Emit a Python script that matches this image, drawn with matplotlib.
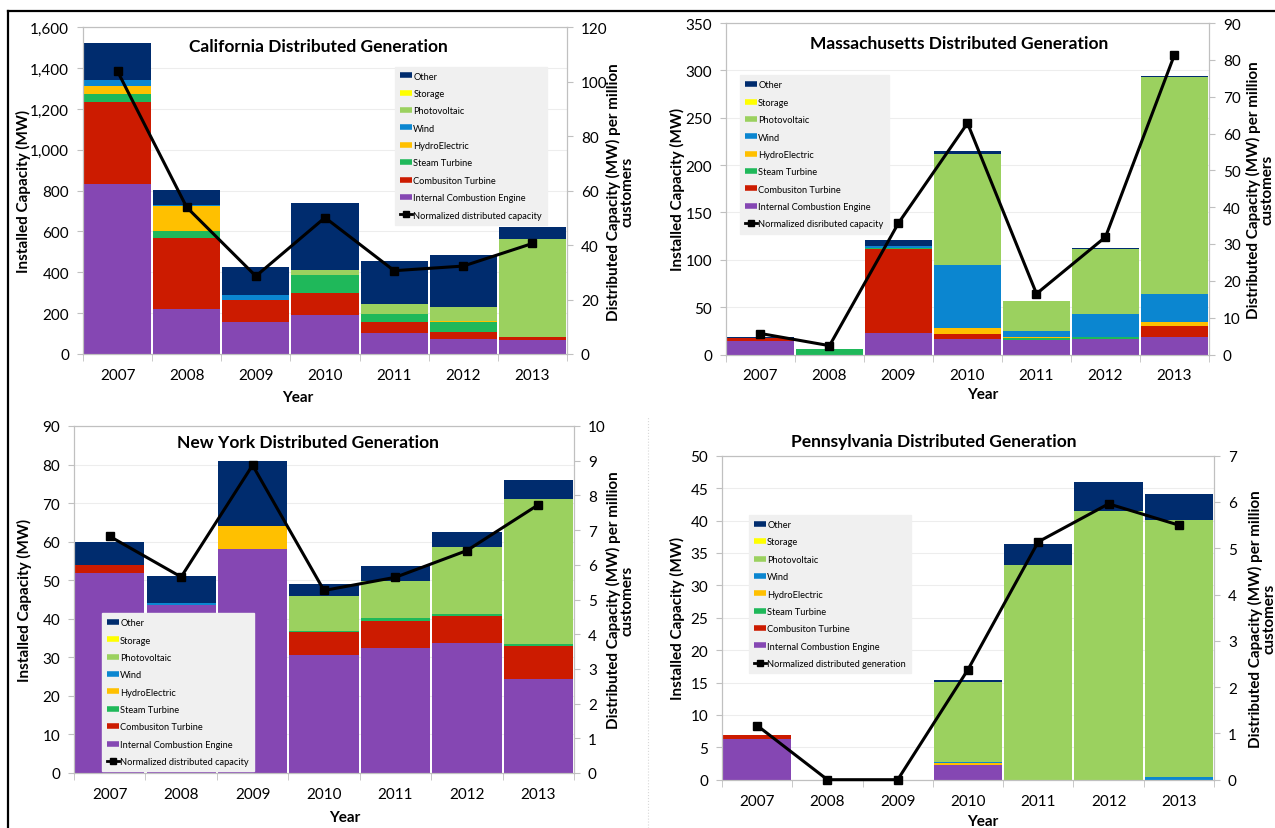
import matplotlib
matplotlib.use('Agg')
import matplotlib.pyplot as plt
from matplotlib.lines import Line2D
from matplotlib.ticker import FuncFormatter

plt.rcParams['font.family'] = ['Lato', 'DejaVu Sans']

years = ['2007', '2008', '2009', '2010', '2011', '2012', '2013']

series_names = ['Internal Combustion Engine', 'Combusiton Turbine', 'Steam Turbine',
                'HydroElectric', 'Wind', 'Photovoltaic', 'Storage', 'Other']
series_colors = ['#8547b3', '#cc1b00', '#1fb85a', '#ffc000', '#0b86d0',
                 '#9bd15f', '#ffff00', '#002c6e']

# California (MW)
ca_ice = [831, 221, 156, 192, 101, 72, 67]
ca_ct = [402, 348, 109, 109, 54, 35, 16]
ca_steam = [39, 34, 0, 86, 42, 52, 0]
ca_hydro = [42, 122, 0, 0, 0, 5, 0]
ca_wind = [27, 3, 24, 0, 0, 0, 0]
ca_pv = [0, 0, 0, 24, 47, 65, 479]
ca_storage = [0, 0, 0, 0, 0, 0, 0]
ca_other = [184, 73, 137, 329, 213, 255, 61]
ca_norm = [103.8, 53.9, 28.6, 50.1, 30.6, 32.3, 40.6]

# Massachusetts (MW)
ma_ice = [14, 0, 23, 16.5, 15, 16, 18]
ma_ct = [3, 0, 88, 5.5, 0, 0, 12]
ma_steam = [0, 5.5, 1.5, 0, 2, 2, 0]
ma_hydro = [0, 0, 0, 6, 1.5, 1, 4.6]
ma_wind = [0, 0, 2.5, 66.7, 6, 24, 29.3]
ma_pv = [0, 0, 0, 117.3, 31.5, 68, 228.7]
ma_storage = [0, 0, 0, 0, 0, 0, 0]
ma_other = [1, 0, 6, 3, 0.5, 1, 1.7]
ma_norm = [5.7, 2.4, 35.7, 62.8, 16.5, 31.9, 81.4]

# New York (MW)
ny_ice = [52, 43.5, 58, 30.7, 32.4, 33.7, 24.5]
ny_ct = [2, 0, 0, 5.8, 7.1, 7.1, 8.5]
ny_steam = [0, 0, 0, 0.4, 0.6, 0.5, 0.4]
ny_hydro = [0, 0, 6, 0, 0, 0, 0]
ny_wind = [0, 0.5, 0, 0, 0, 0, 0]
ny_pv = [0, 0, 0, 8.9, 9.8, 17.4, 37.6]
ny_storage = [0, 0, 0, 0, 0, 0, 0]
ny_other = [6, 7, 17, 3.1, 3.9, 3.7, 5.1]
ny_norm = [6.82, 5.65, 8.87, 5.26, 5.64, 6.41, 7.73]

# Pennsylvania (MW)
pa_ice = [6.3, 0, 0, 2.3, 0, 0, 0]
pa_ct = [0.65, 0, 0, 0, 0, 0, 0]
pa_steam = [0, 0, 0, 0, 0, 0, 0]
pa_hydro = [0, 0, 0, 0.35, 0, 0, 0]
pa_wind = [0, 0, 0, 0.15, 0, 0, 0.4]
pa_pv = [0, 0, 0, 12.35, 33.2, 41.4, 39.7]
pa_storage = [0, 0, 0, 0, 0, 0, 0]
pa_other = [0, 0, 0, 0.3, 3.2, 4.5, 4.0]
pa_norm = [1.17, 0, 0, 2.38, 5.14, 5.96, 5.5]

panels = [
    dict(title='California Distributed Generation',
         stacks=[ca_ice, ca_ct, ca_steam, ca_hydro, ca_wind, ca_pv, ca_storage, ca_other],
         norm=ca_norm, norm_label='Normalized distributed capacity',
         rect=[83, 28.3, 567, 355], ymax=1600, ystep=200, y2max=120, y2step=20,
         title_xy=(0.486, 0.943), leg_xy=(0.645, 0.880),
         ylab_x=-0.107, y2lab_x=1.081, xlab_xy=(0.444, -0.110), comma=True),
    dict(title='Massachusetts Distributed Generation',
         stacks=[ma_ice, ma_ct, ma_steam, ma_hydro, ma_wind, ma_pv, ma_storage, ma_other],
         norm=ma_norm, norm_label='Normalized disributed capacity',
         rect=[726, 24, 1209, 355.5], ymax=350, ystep=50, y2max=90, y2step=10,
         title_xy=(0.482, 0.939), leg_xy=(0.029, 0.842),
         ylab_x=-0.085, y2lab_x=1.077, xlab_xy=(0.532, -0.098), comma=False),
    dict(title='New York Distributed Generation',
         stacks=[ny_ice, ny_ct, ny_steam, ny_hydro, ny_wind, ny_pv, ny_storage, ny_other],
         norm=ny_norm, norm_label='Normalized distributed capacity',
         rect=[74, 427, 574, 774], ymax=90, ystep=10, y2max=10, y2step=1,
         title_xy=(0.468, 0.954), leg_xy=(0.056, 0.461),
         ylab_x=-0.083, y2lab_x=1.064, xlab_xy=(0.542, -0.107), comma=False),
    dict(title='Pennsylvania Distributed Generation',
         stacks=[pa_ice, pa_ct, pa_steam, pa_hydro, pa_wind, pa_pv, pa_storage, pa_other],
         norm=pa_norm, norm_label='Normalized distributed generation',
         rect=[722, 456.7, 1214, 780.7], ymax=50, ystep=5, y2max=7, y2step=1,
         title_xy=(0.43, 1.046), leg_xy=(0.055, 0.817),
         ylab_x=-0.075, y2lab_x=1.069, xlab_xy=(0.53, -0.106), comma=False),
]

W, H = 1275, 829
fig = plt.figure(figsize=(W / 100, H / 100), dpi=100)
spine_color = '#c0c0c0'

for p in panels:
    x0, y0, x1, y1 = p['rect']
    ax = fig.add_axes([x0 / W, 1 - y1 / H, (x1 - x0) / W, (y1 - y0) / H])
    xs = list(range(len(years)))
    bottom = [0.0] * len(years)
    for vals, name, col in zip(p['stacks'], series_names, series_colors):
        ax.bar(xs, vals, 0.97, bottom=bottom, color=col, linewidth=0, zorder=2)
        bottom = [b + v for b, v in zip(bottom, vals)]

    ax.set_xlim(-0.5, 6.5)
    ax.set_ylim(0, p['ymax'])
    ax.set_yticks(list(range(0, p['ymax'] + 1, p['ystep'])))
    if p['comma']:
        ax.yaxis.set_major_formatter(FuncFormatter(lambda v, pos: '{:,.0f}'.format(v)))
    ax.set_xticks(xs)
    ax.set_xticklabels(years)
    ax.set_xticks([i - 0.5 for i in range(len(years) + 1)], minor=True)
    ax.tick_params(axis='x', which='major', length=0, pad=10, labelsize=11)
    ax.tick_params(axis='x', which='minor', length=5, color=spine_color)
    ax.tick_params(axis='y', length=4, color=spine_color, labelsize=11, pad=6)
    ax.grid(axis='y', color='#ededed', linewidth=0.8, zorder=0)
    ax.set_axisbelow(True)
    for s in ax.spines.values():
        s.set_color(spine_color)

    ax.set_ylabel('Installed Capacity (MW)', fontsize=11, fontweight='bold')
    ax.yaxis.set_label_coords(p['ylab_x'], 0.5)
    ax.set_xlabel('Year', fontsize=11, fontweight='bold')
    ax.xaxis.set_label_coords(*p['xlab_xy'])

    ax2 = ax.twinx()
    ax2.plot(xs, p['norm'], color='black', linewidth=2.2, marker='s',
             markersize=6, zorder=5, clip_on=False)
    ax2.set_ylim(0, p['y2max'])
    ax2.set_yticks(list(range(0, p['y2max'] + 1, p['y2step'])))
    ax2.tick_params(axis='y', length=4, color=spine_color, labelsize=11, pad=6)
    for s in ax2.spines.values():
        s.set_color(spine_color)
    ax2.set_ylabel('Distributed Capacity (MW) per million\ncustomers', fontsize=11,
                   fontweight='bold', linespacing=0.95)
    ax2.yaxis.set_label_coords(p['y2lab_x'], 0.5)

    ax2.text(p['title_xy'][0], p['title_xy'][1], p['title'], transform=ax.transAxes,
             ha='center', va='center', fontsize=12.5, fontweight='bold', zorder=10)

    handles = [Line2D([0], [0], color=c, lw=4, solid_capstyle='butt')
               for c in reversed(series_colors)]
    labels = list(reversed(series_names))
    handles.append(Line2D([0], [0], color='black', lw=2, marker='s', markersize=4))
    labels.append(p['norm_label'])
    leg = ax2.legend(handles, labels, loc='upper left', bbox_to_anchor=p['leg_xy'],
                     bbox_transform=ax.transAxes, borderaxespad=0, fontsize=6.7,
                     handlelength=1.3, handletextpad=0.1, labelspacing=0.9,
                     borderpad=0.55, frameon=True, fancybox=False, framealpha=1)
    leg.get_frame().set_facecolor('#f0f0f0')
    leg.get_frame().set_edgecolor('#f0f0f0')

# page border lines and the faint divider
fig.add_artist(Line2D([8 / W, 1], [1 - 12 / H, 1 - 12 / H], transform=fig.transFigure,
                      color='black', linewidth=1.6))
fig.add_artist(Line2D([8 / W, 8 / W], [0, 1 - 12 / H], transform=fig.transFigure,
                      color='black', linewidth=1.6))
fig.add_artist(Line2D([648 / W, 648 / W], [0, 1 - 418 / H], transform=fig.transFigure,
                      color='#d8d8d8', linewidth=0.8, linestyle=':'))

fig.savefig('out.png', dpi=100)
